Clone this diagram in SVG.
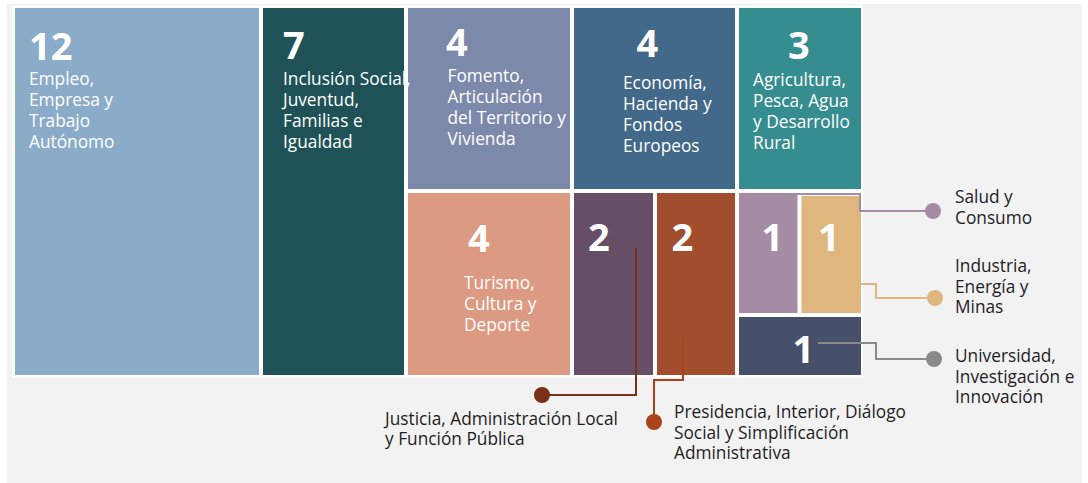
<svg xmlns="http://www.w3.org/2000/svg" width="1088" height="483" viewBox="0 0 1088 483">
<style>
.num{font-family:"Open Sans","DejaVu Sans",sans-serif;font-weight:700;font-size:38px;fill:#fff}
.tl{font-family:"Open Sans","DejaVu Sans",sans-serif;font-size:17.3px;fill:#fff}
.lb{font-family:"Open Sans","DejaVu Sans",sans-serif;font-size:17.3px;fill:#1e1e1e}
.cn{fill:none;stroke-width:2}
</style>
<rect x="0" y="0" width="1088" height="483" fill="#fff"/>
<rect x="7" y="4" width="1075" height="479" fill="#f2f2f2"/>
<rect x="12" y="5.5" width="851" height="372" fill="#fff"/>
<g id="empleo">
<rect x="15" y="8" width="244" height="367" fill="#8aacc8"/>
<text class="num" x="29" y="60">12</text>
<text class="tl"><tspan x="29" y="85">Empleo,</tspan><tspan x="29" y="106">Empresa y</tspan><tspan x="29" y="127">Trabajo</tspan><tspan x="29" y="148">Autónomo</tspan></text>
</g>
<g id="fomento">
<rect x="408" y="8" width="162" height="181" fill="#7d89aa"/>
<text class="num" x="446" y="56">4</text>
<text class="tl"><tspan x="447.5" y="81.5">Fomento,</tspan><tspan x="447.5" y="102.5">Articulación</tspan><tspan x="447.5" y="123.5">del Territorio y</tspan><tspan x="447.5" y="144.5">Vivienda</tspan></text>
</g>
<g id="inclusion">
<rect x="263" y="8" width="141" height="367" fill="#1f5257"/>
<text class="num" x="283" y="59">7</text>
<text class="tl"><tspan x="283" y="84.5">Inclusión Social,</tspan><tspan x="283" y="105.5">Juventud,</tspan><tspan x="283" y="126.5">Familias e</tspan><tspan x="283" y="147.5">Igualdad</tspan></text>
</g>
<rect x="404" y="8" width="4" height="60" fill="#fff"/>
<g id="economia">
<rect x="574" y="8" width="161" height="181" fill="#426989"/>
<text class="num" x="636.5" y="57">4</text>
<text class="tl"><tspan x="623" y="88.5">Economía,</tspan><tspan x="623" y="109.5">Hacienda y</tspan><tspan x="623" y="130.5">Fondos</tspan><tspan x="623" y="151.5">Europeos</tspan></text>
</g>
<g id="agricultura">
<rect x="739" y="8" width="122" height="181" fill="#358d8f"/>
<text class="num" x="788" y="59">3</text>
<text class="tl"><tspan x="753" y="86">Agricultura,</tspan><tspan x="753" y="107">Pesca, Agua</tspan><tspan x="753" y="128">y Desarrollo</tspan><tspan x="753" y="149">Rural</tspan></text>
</g>
<g id="turismo">
<rect x="408" y="193" width="162" height="182" fill="#db9a81"/>
<text class="num" x="468" y="251.5">4</text>
<text class="tl"><tspan x="464" y="288.5">Turismo,</tspan><tspan x="464" y="309.5">Cultura y</tspan><tspan x="464" y="330.5">Deporte</tspan></text>
</g>
<g id="justicia">
<rect x="574" y="193" width="79" height="182" fill="#664f66"/>
<text class="num" x="588" y="251">2</text>
</g>
<g id="presidencia">
<rect x="657" y="193" width="78" height="182" fill="#a24e2e"/>
<text class="num" x="671.5" y="251">2</text>
</g>
<g id="salud">
<rect x="739" y="193" width="58.5" height="120" fill="#a58ba4"/>
<text class="num" x="761.5" y="251">1</text>
</g>
<g id="industria">
<rect x="801.5" y="196" width="59.5" height="117" fill="#e0b67f"/>
<text class="num" x="818" y="251">1</text>
</g>
<g id="universidad">
<rect x="739" y="317" width="122" height="58" fill="#46506b"/>
<text class="num" x="792.5" y="363">1</text>
</g>
<g id="connectors">
<path class="cn" stroke="#a58ba4" d="M787,194 H860 V211 H933"/>
<circle cx="933" cy="211" r="8" fill="#a58ba4"/>
<path class="cn" stroke="#e0b67f" d="M861,284 H876 V298 H935"/>
<circle cx="935" cy="298" r="8" fill="#e0b67f"/>
<path class="cn" stroke="#8a8a8a" d="M818,343 H876 V359 H934"/>
<circle cx="934" cy="359" r="8" fill="#8a8a8a"/>
<path class="cn" stroke="#7b2f14" d="M636,248 V395 H542"/>
<circle cx="542" cy="395" r="8" fill="#7b2f14"/>
<path class="cn" stroke="#a8431c" d="M683,339 V380 H654 V422"/>
<circle cx="654" cy="422" r="8" fill="#a8431c"/>
</g>
<g id="labels">
<text class="lb"><tspan x="955" y="203">Salud y</tspan><tspan x="955" y="223.5">Consumo</tspan></text>
<text class="lb"><tspan x="955" y="272">Industria,</tspan><tspan x="955" y="292.5">Energía y</tspan><tspan x="955" y="313">Minas</tspan></text>
<text class="lb"><tspan x="955" y="362">Universidad,</tspan><tspan x="955" y="382.5">Investigación e</tspan><tspan x="955" y="403">Innovación</tspan></text>
<text class="lb"><tspan x="385" y="424.5">Justicia, Administración Local</tspan><tspan x="385" y="445">y Función Pública</tspan></text>
<text class="lb"><tspan x="674" y="417.5">Presidencia, Interior, Diálogo</tspan><tspan x="674" y="438.5">Social y Simplificación</tspan><tspan x="674" y="459">Administrativa</tspan></text>
</g>
</svg>
